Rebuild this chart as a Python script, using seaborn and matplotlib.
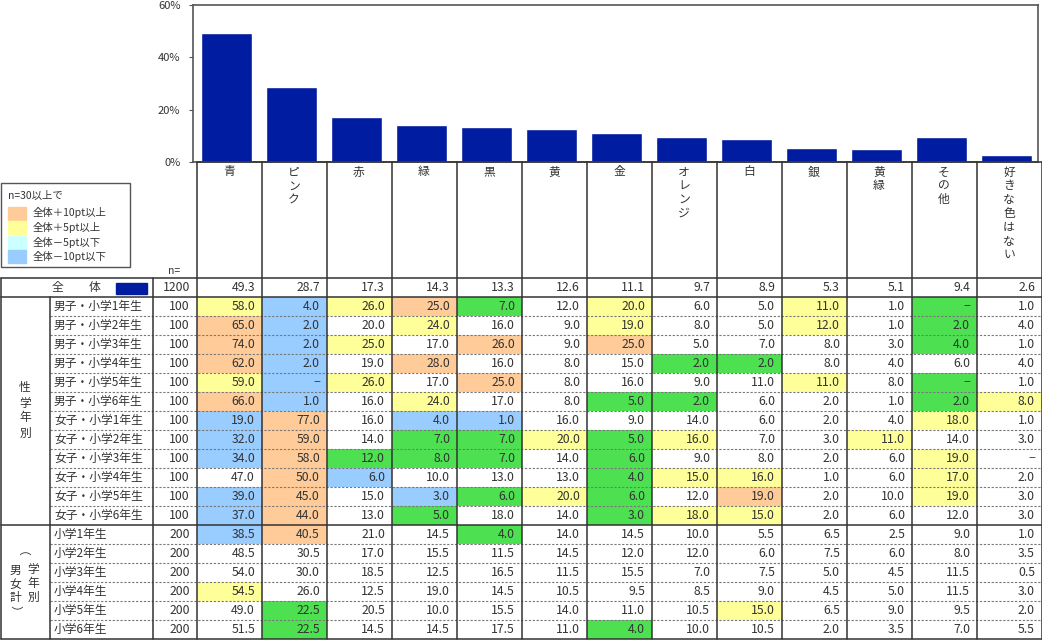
import numpy as np
import pandas as pd
import matplotlib
matplotlib.use("Agg")
import matplotlib.pyplot as plt
from matplotlib.colors import ListedColormap
from matplotlib.patches import Rectangle
import seaborn as sns

# データ
colors = ['青', 'ピンク', '赤', '緑', '黒', '黄', '金', 'オレンジ', '白', '銀', '黄緑', 'その他', '好きな色はない']
overall = [49.3, 28.7, 17.3, 14.3, 13.3, 12.6, 11.1, 9.7, 8.9, 5.3, 5.1, 9.4, 2.6]
n_total = 1200

row_labels = ['男子・小学1年生', '男子・小学2年生', '男子・小学3年生', '男子・小学4年生',
              '男子・小学5年生', '男子・小学6年生', '女子・小学1年生', '女子・小学2年生',
              '女子・小学3年生', '女子・小学4年生', '女子・小学5年生', '女子・小学6年生',
              '小学1年生', '小学2年生', '小学3年生', '小学4年生', '小学5年生', '小学6年生']
row_n = [100] * 12 + [200] * 6

boys_1 = [58.0, 4.0, 26.0, 25.0, 7.0, 12.0, 20.0, 6.0, 5.0, 11.0, 1.0, 0.0, 1.0]
boys_2 = [65.0, 2.0, 20.0, 24.0, 16.0, 9.0, 19.0, 8.0, 5.0, 12.0, 1.0, 2.0, 4.0]
boys_3 = [74.0, 2.0, 25.0, 17.0, 26.0, 9.0, 25.0, 5.0, 7.0, 8.0, 3.0, 4.0, 1.0]
boys_4 = [62.0, 2.0, 19.0, 28.0, 16.0, 8.0, 15.0, 2.0, 2.0, 8.0, 4.0, 6.0, 4.0]
boys_5 = [59.0, 0.0, 26.0, 17.0, 25.0, 8.0, 16.0, 9.0, 11.0, 11.0, 8.0, 0.0, 1.0]
boys_6 = [66.0, 1.0, 16.0, 24.0, 17.0, 8.0, 5.0, 2.0, 6.0, 2.0, 1.0, 2.0, 8.0]
girls_1 = [19.0, 77.0, 16.0, 4.0, 1.0, 16.0, 9.0, 14.0, 6.0, 2.0, 4.0, 18.0, 1.0]
girls_2 = [32.0, 59.0, 14.0, 7.0, 7.0, 20.0, 5.0, 16.0, 7.0, 3.0, 11.0, 14.0, 3.0]
girls_3 = [34.0, 58.0, 12.0, 8.0, 7.0, 14.0, 6.0, 9.0, 8.0, 2.0, 6.0, 19.0, 0.0]
girls_4 = [47.0, 50.0, 6.0, 10.0, 13.0, 13.0, 4.0, 15.0, 16.0, 1.0, 6.0, 17.0, 2.0]
girls_5 = [39.0, 45.0, 15.0, 3.0, 6.0, 20.0, 6.0, 12.0, 19.0, 2.0, 10.0, 19.0, 3.0]
girls_6 = [37.0, 44.0, 13.0, 5.0, 18.0, 14.0, 3.0, 18.0, 15.0, 2.0, 6.0, 12.0, 3.0]
grade_1 = [38.5, 40.5, 21.0, 14.5, 4.0, 14.0, 14.5, 10.0, 5.5, 6.5, 2.5, 9.0, 1.0]
grade_2 = [48.5, 30.5, 17.0, 15.5, 11.5, 14.5, 12.0, 12.0, 6.0, 7.5, 6.0, 8.0, 3.5]
grade_3 = [54.0, 30.0, 18.5, 12.5, 16.5, 11.5, 15.5, 7.0, 7.5, 5.0, 4.5, 11.5, 0.5]
grade_4 = [54.5, 26.0, 12.5, 19.0, 14.5, 10.5, 9.5, 8.5, 9.0, 4.5, 5.0, 11.5, 3.0]
grade_5 = [49.0, 22.5, 20.5, 10.0, 15.5, 14.0, 11.0, 10.5, 15.0, 6.5, 9.0, 9.5, 2.0]
grade_6 = [51.5, 22.5, 14.5, 14.5, 17.5, 11.0, 4.0, 10.0, 10.5, 2.0, 3.5, 7.0, 5.5]

rows = [boys_1, boys_2, boys_3, boys_4, boys_5, boys_6,
        girls_1, girls_2, girls_3, girls_4, girls_5, girls_6,
        grade_1, grade_2, grade_3, grade_4, grade_5, grade_6]

legend_labels = ['全体＋10pt以上', '全体＋5pt以上', '全体－5pt以下', '全体－10pt以下']

sns.set_style("white")
plt.rcParams['font.family'] = ['Noto Sans CJK JP', 'DejaVu Sans']

W, H = 1042, 640
BAR = '#001ca0'
LINE = '#333333'
TXT = '#333333'
FS = 8.8      # 数値
FL = 8.5      # 行ラベル
fig = plt.figure(figsize=(W / 100, H / 100), dpi=100)


def fr(x0, y0, x1, y1):
    # ピクセル枠 -> figure座標
    return [x0 / W, 1 - y1 / H, (x1 - x0) / W, (y1 - y0) / H]


col0, colw = 196.5, 65.0
row0, rowh = 278.0, 19.0

# 棒グラフ (元図は棒が列中心より少し左)
ax = fig.add_axes(fr(193, 5, 1038, 162))
df = pd.DataFrame({'色': colors, '全体': overall})
sns.barplot(data=df, x='色', y='全体', color=BAR, saturation=1, width=0.78, ax=ax)
shift = 2.5 / colw
ax.set_xlim((193 - col0) / colw - 0.5 + shift, (1038 - col0) / colw - 0.5 + shift)
ax.set_ylim(0, 60)
ax.set_yticks([0, 20, 40, 60])
ax.set_yticklabels([f'{v}%' for v in [0, 20, 40, 60]])
ax.set_xticks([])
ax.set_xlabel('')
ax.set_ylabel('')
ax.tick_params(axis='y', left=True, length=3, width=0.8, color='#555555',
               labelsize=8, labelcolor=TXT, pad=6)
for s in ax.spines.values():
    s.set_color('#555555')
    s.set_linewidth(1.2)

# 表 (ヒートマップ)
vals = np.array([overall] + rows)
diff = vals - np.array(overall)
cls = np.zeros(vals.shape, dtype=int)
cls[diff >= 4.95] = 3
cls[diff >= 9.95] = 4
cls[diff <= -4.95] = 1
cls[diff <= -9.95] = 2
annot = np.array([['−' if v == 0 else f'{v:.1f}' for v in r] for r in vals])

hx = fig.add_axes(fr(col0, row0, col0 + colw * 13, row0 + rowh * 19))
cmap = ListedColormap(['white', '#4de152', '#99ccff', '#ffff99', '#ffcc99'])
sns.heatmap(cls, ax=hx, cmap=cmap, vmin=-0.5, vmax=4.5, cbar=False,
            annot=annot, fmt='', xticklabels=False, yticklabels=False,
            annot_kws=dict(ha='right', color=TXT, fontsize=FS))
for t in hx.texts:
    x, y = t.get_position()
    t.set_position((x + 0.40, y))

# 罫線・ラベル
ov = fig.add_axes([0, 0, 1, 1])
ov.set_xlim(0, W)
ov.set_ylim(H, 0)
ov.axis('off')

x_end = col0 + colw * 13
y_end = row0 + rowh * 19

for r in list(range(2, 13)) + list(range(14, 19)):
    y = row0 + rowh * r
    ov.plot([50, x_end], [y, y], color='#777777', lw=0.8, ls=(0, (2, 1.5)))

for k in range(14):
    x = col0 + colw * k
    ov.plot([x, x], [162, y_end], color=LINE, lw=1.1)
ov.plot([col0, x_end], [162, 162], color=LINE, lw=1.1)
for y in [row0, row0 + rowh, row0 + rowh * 13, y_end]:
    ov.plot([0.5, x_end], [y, y], color=LINE, lw=1.1)
ov.plot([0.5, 0.5], [row0, y_end], color=LINE, lw=1.1)
ov.plot([50, 50], [row0 + rowh, y_end], color=LINE, lw=1.1)
ov.plot([153, 153], [row0, y_end], color=LINE, lw=1.1)

# 列見出し (縦書き)
for j, name in enumerate(colors):
    cx = col0 + colw * (j + 0.5)
    for i, ch in enumerate(name):
        ov.text(cx, 172 + 13.8 * i, ch, ha='center', va='center',
                fontsize=8.5, color=TXT)
ov.text(174, 271, 'n=', ha='center', va='center', fontsize=7.5, color=TXT)

# 全体行
ov.text(57, row0 + rowh / 2, '全', ha='center', va='center', fontsize=FL, color=TXT)
ov.text(95, row0 + rowh / 2, '体', ha='center', va='center', fontsize=FL, color=TXT)
ov.add_patch(Rectangle((116, 283), 31, 11, color=BAR))
ov.text(190, row0 + rowh / 2, str(n_total), ha='right', va='center', fontsize=FS, color=TXT)

for i, (lab, n) in enumerate(zip(row_labels, row_n)):
    y = row0 + rowh * (i + 1.5)
    ov.text(54, y, lab, ha='left', va='center', fontsize=FL, color=TXT)
    ov.text(190, y, str(n), ha='right', va='center', fontsize=FS, color=TXT)

# グループ見出し
for i, ch in enumerate('性学年別'):
    ov.text(25, 388 + 15 * i, ch, ha='center', va='center', fontsize=FL, color=TXT)
for i, ch in enumerate('学年別'):
    ov.text(33, 570 + 13.5 * i, ch, ha='center', va='center', fontsize=FL, color=TXT)
for i, ch in enumerate('（男女計）'):
    rot = -90 if ch in '（）' else 0
    ov.text(15, 557 + 13.5 * i, ch, ha='center', va='center', fontsize=FL,
            color=TXT, rotation=rot)

# 凡例
ov.add_patch(Rectangle((0.5, 183), 129.5, 84, facecolor='white',
                       edgecolor='#555555', lw=1))
ov.text(8, 196, 'n=30以上で', ha='left', va='center', fontsize=7.5, color=TXT)
legend_colors = ['#ffcc99', '#ffff99', '#ccffff', '#99ccff']
for i, (c, lab) in enumerate(zip(legend_colors, legend_labels)):
    y = 213 + 14.5 * i
    ov.add_patch(Rectangle((8, y - 6.5), 18, 13, color=c))
    ov.text(33, y, lab, ha='left', va='center', fontsize=7.5, color=TXT)

fig.savefig('out.png', dpi=100, facecolor='white')
